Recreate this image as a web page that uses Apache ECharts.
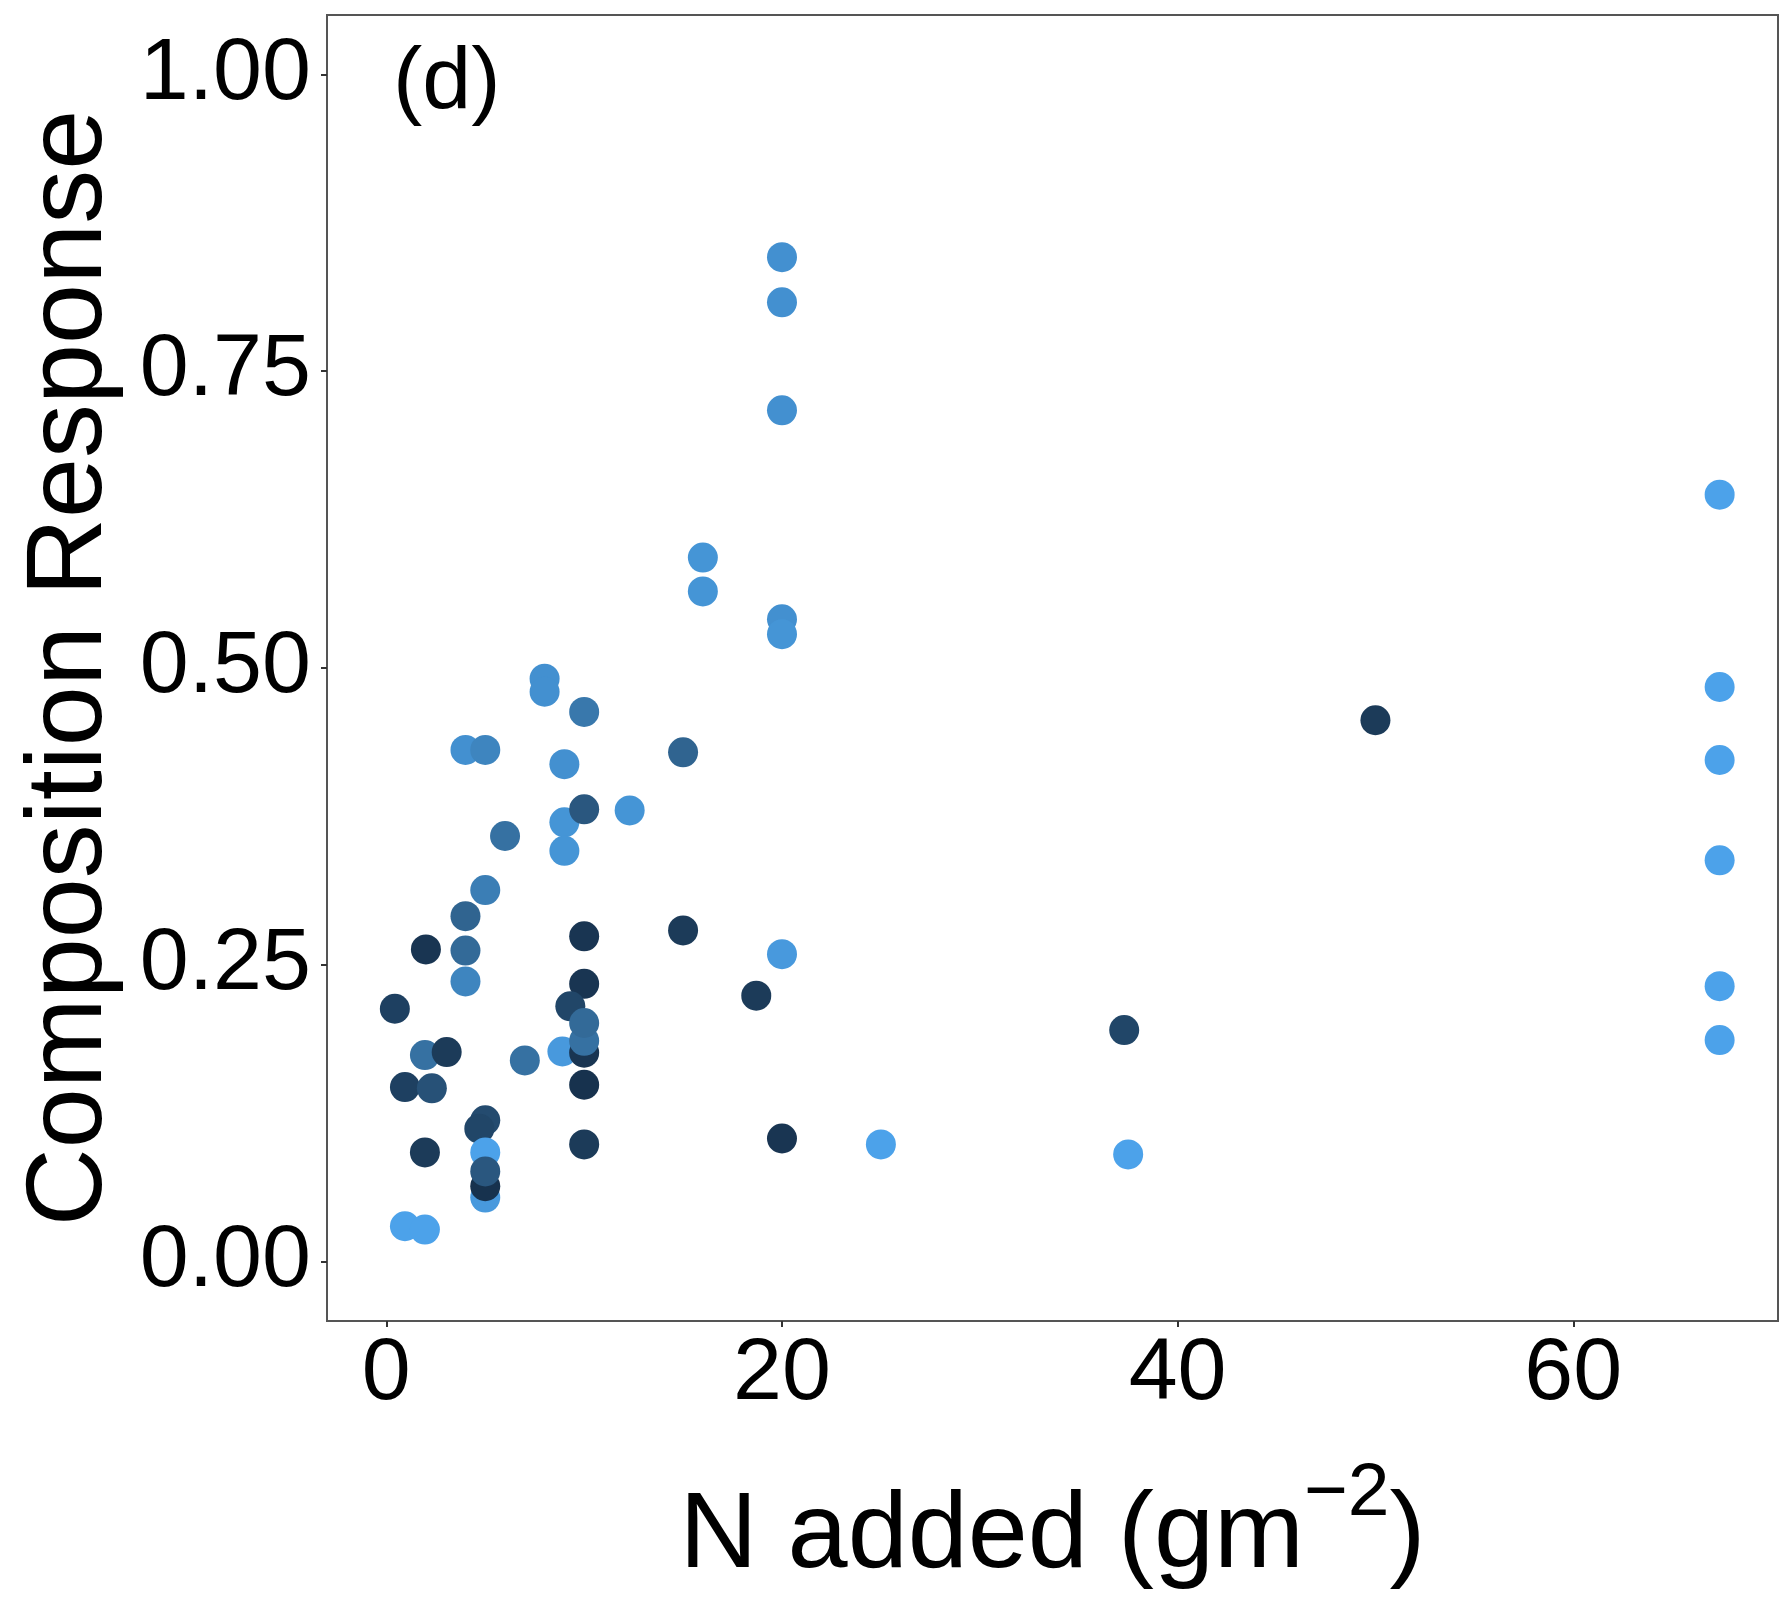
<!DOCTYPE html>
<html>
<head>
<meta charset="utf-8">
<title>Composition Response vs N added</title>
<script src="https://cdn.jsdelivr.net/npm/echarts@6/dist/echarts.min.js"></script>
<style>
  html, body { margin: 0; padding: 0; background: #ffffff; }
  #chart { width: 1782px; height: 1601px; }
</style>
</head>
<body>
<div id="chart"></div>
<script>
// N added per plot (g m^-2)
const nAdded = [
  20, 20, 20, 67.4, 16, 16, 20, 20,
  67.4, 67.4, 67.4, 67.4, 67.4, 50,
  8, 8, 10, 4, 5, 9, 15,
  9, 10, 12.3, 9, 6, 5, 4,
  2, 4, 4, 10, 15, 20, 10,
  0.43, 9.3, 18.7, 8.9, 10, 10, 10, 37.3,
  1.95, 3.05, 7, 0.94, 2.3, 10,
  5, 4.7, 1.95, 10, 20, 25, 37.5,
  5, 5, 5, 5, 0.94, 1.95
];

// Composition response of each plot
const response = [
  0.846, 0.808, 0.717, 0.646, 0.593, 0.5645, 0.541, 0.5285,
  0.484, 0.4225, 0.338, 0.232, 0.1866, 0.456,
  0.491, 0.480, 0.463, 0.431, 0.431, 0.419, 0.429,
  0.370, 0.381, 0.380, 0.346, 0.3585, 0.313, 0.291,
  0.263, 0.236, 0.262, 0.274, 0.279, 0.259, 0.234,
  0.213, 0.215, 0.224, 0.177, 0.176, 0.186, 0.201, 0.195,
  0.174, 0.1765, 0.1695, 0.147, 0.146, 0.149,
  0.119, 0.112, 0.092, 0.0987, 0.1037, 0.0987, 0.0903,
  0.054, 0.0635, 0.092, 0.076, 0.0298, 0.027
];

// Colour covariate (0 = dark navy, 1 = light blue)
const shade = [
  0.8, 0.8, 0.8, 1, 0.85, 0.85, 0.8, 0.85,
  1, 1, 1, 1, 1, 0.1,
  0.8, 0.8, 0.6, 0.8, 0.7, 0.8, 0.45,
  0.85, 0.35, 0.85, 0.85, 0.55, 0.65, 0.45,
  0.05, 0.7, 0.5, 0.05, 0.1, 0.9, 0.05,
  0.15, 0.2, 0.1, 0.9, 0.05, 0.55, 0.5, 0.2,
  0.55, 0.1, 0.55, 0.15, 0.3, 0.02,
  0.25, 0.2, 0.1, 0.1, 0.05, 1, 1,
  0.9, 0.02, 1, 0.35, 1, 1
];

// Axis tick positions
const xTicks = [0, 20, 40, 60];
const yTicks = [0, 0.25, 0.5, 0.75, 1.0];

const points = nAdded.map((x, i) => [x, response[i], shade[i]]);

const FONT = '"Liberation Sans", Arial, Helvetica, sans-serif';

const chart = echarts.init(document.getElementById('chart'), null, { renderer: 'canvas' });

chart.setOption({
  backgroundColor: '#ffffff',
  animation: false,
  grid: {
    left: 327, top: 15, right: 4, bottom: 280,
    show: true, borderColor: '#555555', borderWidth: 2, backgroundColor: '#ffffff'
  },
  xAxis: {
    type: 'value',
    min: -3.0, max: 70.35,
    name: '{a|N added (gm}{s|\u22122}{a|)}',
    nameLocation: 'middle',
    nameGap: 136,
    nameTextStyle: {
      fontFamily: FONT, color: '#000',
      rich: {
        a: { fontFamily: FONT, fontSize: 108, color: '#000', lineHeight: 160 },
        s: { fontFamily: FONT, fontSize: 75, color: '#000', lineHeight: 75, verticalAlign: 'top' }
      }
    },
    axisLine: { show: false, onZero: false },
    axisTick: { show: true, customValues: xTicks, length: 6, inside: false, lineStyle: { color: '#333', width: 2 } },
    axisLabel: { customValues: xTicks, margin: 10, fontFamily: FONT, fontSize: 88, color: '#000' },
    splitLine: { show: false }
  },
  yAxis: {
    type: 'value',
    min: -0.05, max: 1.05,
    name: 'Composition Response',
    nameLocation: 'middle',
    nameRotate: 90,
    nameGap: 202,
    nameTextStyle: { fontFamily: FONT, fontSize: 108, color: '#000' },
    axisLine: { show: false, onZero: false },
    axisTick: { show: true, customValues: yTicks, length: 6, inside: false, lineStyle: { color: '#333', width: 2 } },
    axisLabel: {
      customValues: yTicks, margin: 16, fontFamily: FONT, fontSize: 88, color: '#000',
      formatter: v => v.toFixed(2)
    },
    splitLine: { show: false }
  },
  visualMap: {
    show: false,
    type: 'continuous',
    dimension: 2,
    min: 0, max: 1,
    seriesIndex: 0,
    inRange: { color: ['#16304b', '#244b6f', '#336a98', '#418cc9', '#4ca2ea'] }
  },
  graphic: [{
    type: 'text',
    left: 393, top: 40,
    style: { text: '(d)', font: '88px ' + FONT, fill: '#000' }
  }],
  series: [{
    type: 'scatter',
    data: points,
    symbol: 'circle',
    symbolSize: 30,
    itemStyle: { opacity: 1 }
  }]
});
</script>
</body>
</html>
